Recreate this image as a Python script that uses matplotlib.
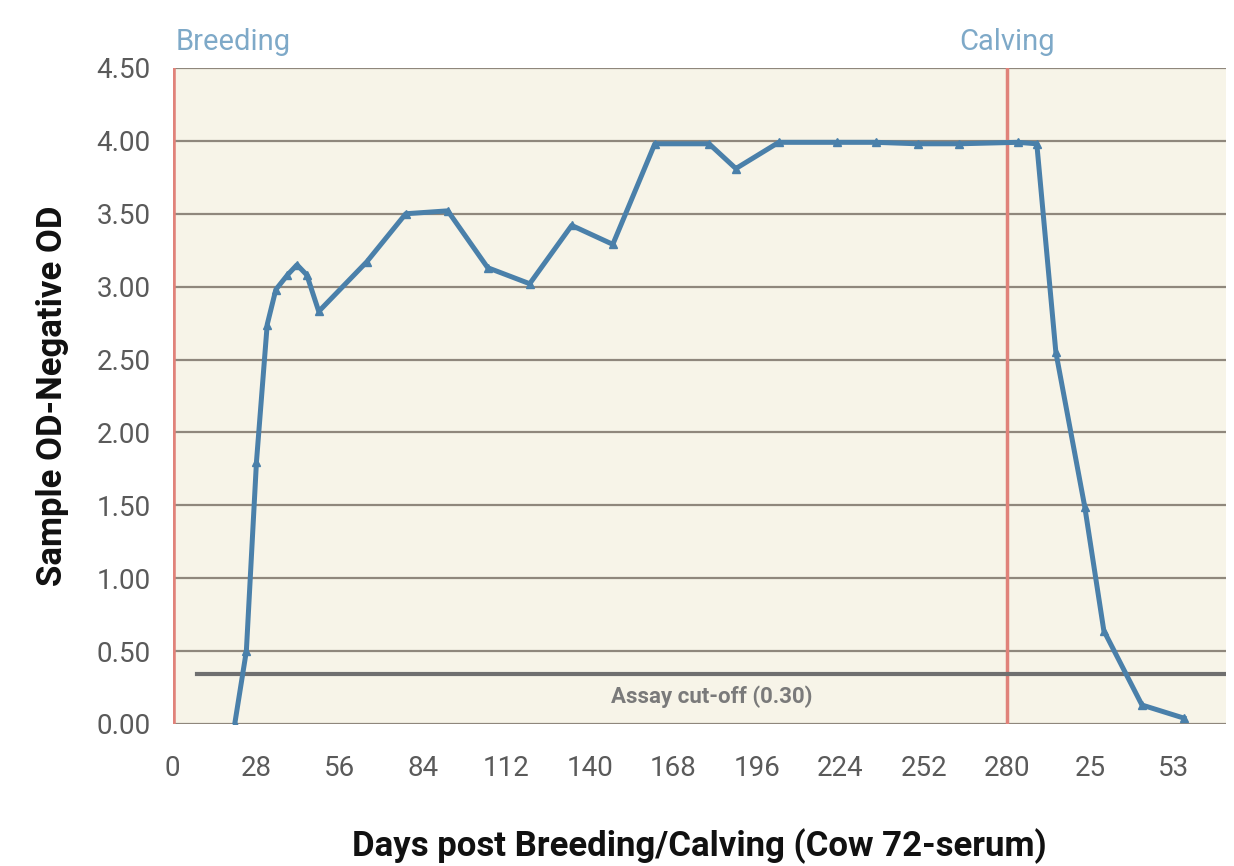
import matplotlib.pyplot as plt
from matplotlib import font_manager

names = {f.name for f in font_manager.fontManager.ttflist}
narrow = 'Liberation Sans Narrow' if 'Liberation Sans Narrow' in names else 'Roboto'

# days on a continuous axis; after 280 the labels restart at calving
days = [20.8, 24.7, 28.1, 31.7, 34.6, 38.5, 41.7, 45.0, 49.0, 65.1, 78.2, 92.3,
        105.7, 119.8, 133.9, 147.7, 161.8, 180.0, 189.0, 203.4, 223.0, 236.0,
        250.0, 264.0, 283.6, 290.0, 296.4, 306.1, 312.5, 325.3, 339.4]
od = [0.00, 0.50, 1.80, 2.74, 2.98, 3.08, 3.15, 3.08, 2.83, 3.17, 3.50, 3.52,
      3.13, 3.02, 3.42, 3.29, 3.98, 3.98, 3.81, 3.99, 3.99, 3.99,
      3.98, 3.98, 3.99, 3.98, 2.55, 1.49, 0.64, 0.13, 0.04]

xtick_pos = [0, 28, 56, 84, 112, 140, 168, 196, 224, 252, 280, 308, 336]
xtick_lab = ['0', '28', '56', '84', '112', '140', '168', '196', '224', '252', '280', '25', '53']
ytick_pos = [0, 0.5, 1, 1.5, 2, 2.5, 3, 3.5, 4, 4.5]
cutoff = 0.34
breeding_day = 0
calving_day = 280

fig = plt.figure(figsize=(12.34, 8.66), dpi=100)
ax = fig.add_axes([0.140, 0.164, 0.8535, 0.7575])
ax.set_facecolor('#f7f4e8')

for y in ytick_pos:
    ax.axhline(y, color='#8f877c', lw=1.6, zorder=1)

ax.axvline(breeding_day, color='#e0827a', lw=4, zorder=2)
ax.axvline(calving_day, color='#e0827a', lw=2.5, zorder=2)
ax.plot([8, 360], [cutoff, cutoff], color='#6f6f6f', lw=3, zorder=2)
ax.text(181, 0.185, 'Assay cut-off (0.30)', ha='center', va='center',
        fontsize=16, fontweight='bold', color='#7a7a7a', family=narrow)

ax.plot(days, od, color='#4a80aa', lw=3.6, marker='^', ms=6, zorder=3)

ax.set_xlim(0, 353.5)
ax.set_ylim(0, 4.5)
ax.set_xticks(xtick_pos)
ax.set_xticklabels(xtick_lab)
ax.set_yticks(ytick_pos)
ax.set_yticklabels(['%.2f' % v for v in ytick_pos])
ax.tick_params(length=0, labelsize=20, labelcolor='#5a5a5a')
ax.tick_params(axis='x', pad=22)
ax.tick_params(axis='y', pad=16)
for lab in ax.get_xticklabels() + ax.get_yticklabels():
    lab.set_family(narrow)
for s in ax.spines.values():
    s.set_visible(False)

ax.text(breeding_day + 1, 4.68, 'Breeding', ha='left', va='center',
        fontsize=21, color='#7ea9c8', family=narrow)
ax.text(calving_day, 4.68, 'Calving', ha='center', va='center',
        fontsize=21, color='#7ea9c8', family=narrow)

ax.set_xlabel('Days post Breeding/Calving (Cow 72-serum)', fontsize=25,
              fontweight='bold', family=narrow, labelpad=34, color='#111111')
ax.set_ylabel('Sample OD-Negative OD', fontsize=25, fontweight='bold',
              family=narrow, labelpad=20, color='#111111')

fig.savefig('out.png', dpi=100, facecolor='white')
